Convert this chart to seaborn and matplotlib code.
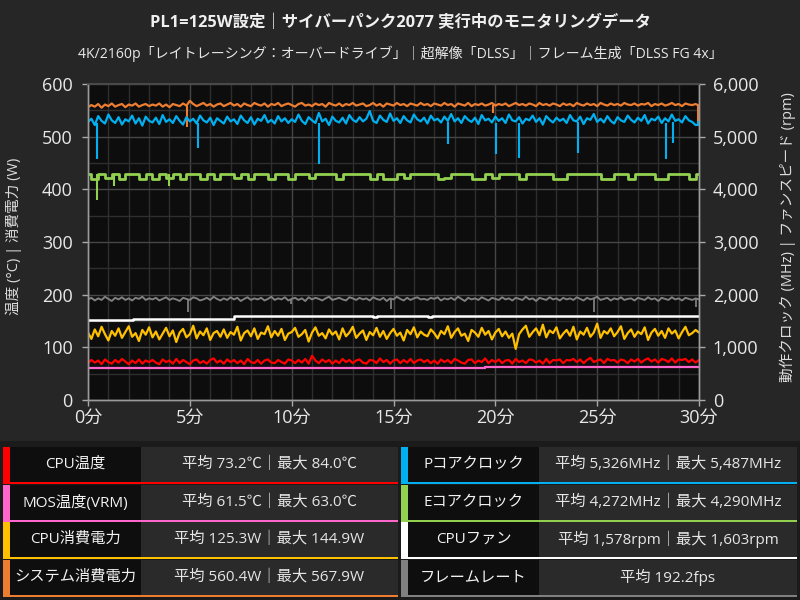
import numpy as np
import matplotlib
matplotlib.use("Agg")
import matplotlib.pyplot as plt
import matplotlib.patches as patches
from matplotlib.ticker import MultipleLocator, FuncFormatter
import seaborn as sns

# sampling grids of the logged series over 30 minutes
t10 = np.linspace(0, 30, 181)   # every 10 s
t20 = np.linspace(0, 30, 91)    # every 20 s

cpu_temp = [70, 76, 71, 75, 68, 77, 72, 69, 76, 71, 78, 73, 68, 75, 70, 77, 69, 75, 72, 76,
            71, 68, 77, 72, 75, 69, 78, 70, 76, 72, 68, 75, 77, 70, 74, 69, 76, 79, 71, 75,
            69, 77, 72, 76, 70, 75, 68, 78, 72, 70, 76, 69, 75, 77, 71, 70, 76, 72, 69, 77,
            75, 70, 76, 71, 78, 69, 84, 75, 70, 77, 72, 76, 69, 75, 70, 78, 72, 76, 70, 75,
            77, 71, 69, 76, 75, 70, 79, 72, 76, 69, 75, 77, 70, 76, 71, 78, 70, 75, 77, 72,
            76, 70, 75, 69, 77, 72, 76, 70, 78, 75, 71, 69, 76, 77, 70, 75, 72, 79, 70, 76,
            72, 77, 70, 75, 76, 69, 78, 72, 75, 70, 77, 76, 71, 75, 69, 78, 70, 76, 75, 77,
            70, 76, 75, 78, 72, 77, 70, 76, 80, 72, 75, 77, 70, 78, 75, 76, 71, 77, 75, 70,
            77, 73, 78, 71, 76, 79, 73, 77, 71, 78, 76, 72, 79, 71, 77, 76, 78, 72, 77, 71,
            76]

cpu_power = [128, 116, 134, 121, 139, 125, 113, 131, 122, 136, 118, 129, 140, 120, 127, 112, 133, 124, 138, 119,
             130, 115, 126, 137, 121, 132, 110, 128, 135, 119, 125, 141, 117, 130, 123, 136, 114, 127, 131, 120,
             134, 118, 129, 124, 139, 113, 127, 132, 121, 136, 116, 128, 125, 140, 119, 131, 122, 135, 114, 126,
             129, 137, 120, 125, 133, 111, 128, 138, 122, 127, 117, 134, 124, 130, 115, 136, 121, 128, 139, 118,
             126, 132, 114, 129, 123, 137, 120, 131, 116, 127, 135, 122, 128, 113, 133, 125, 138, 119, 130, 124,
             121, 134, 127, 117, 131, 125, 140, 118, 129, 136, 122, 126, 112, 133, 128, 120, 137, 124, 131, 115,
             128, 135, 121, 130, 118, 126, 97, 125, 134, 141, 120, 129, 136, 123, 143, 119, 132, 127, 138, 117,
             126, 133, 122, 139, 115, 130, 124, 137, 120, 128, 145, 118, 131, 126, 136, 121, 129, 140, 116, 127,
             134, 120, 130, 125, 138, 114, 128, 135, 122, 131, 118, 136, 126, 132, 117, 129, 139, 123, 127, 133,
             128]

sys_power = [556, 560, 557, 562, 555, 561, 558, 563, 557, 560, 562, 556, 561, 559, 563, 557, 560, 562, 558, 561,
             559, 563, 557, 561, 556, 562, 560, 558, 563, 559, 568, 562, 558, 561, 564, 559, 562, 557, 561, 563,
             558, 561, 564, 559, 562, 557, 563, 560, 558, 564, 561, 559, 563, 557, 562, 560, 564, 558, 561, 563,
             560, 557, 562, 564, 559, 561, 558, 563, 560, 562, 557, 564, 561, 559, 563, 558, 562, 560, 564, 559,
             561, 563, 558, 560, 564, 559, 562, 557, 563, 561, 559, 564, 560, 562, 558, 563, 561, 559, 564, 560,
             562, 558, 563, 561, 559, 564, 560, 562, 557, 563, 561, 559, 564, 558, 562, 560, 563, 559, 561, 564,
             559, 562, 560, 563, 558, 561, 564, 560, 562, 559, 563, 561, 558, 564, 560, 562, 559, 563, 561, 558,
             563, 560, 562, 558, 564, 561, 559, 563, 560, 562, 558, 564, 561, 559, 563, 560, 562, 559, 564, 561,
             560, 563, 559, 562, 561, 564, 558, 562, 560, 563, 559, 561, 564, 560, 562, 558, 563, 561, 560, 562,
             559]

p_clock = [5280, 5340, 5220, 5390, 5300, 5250, 5420, 5310, 5260, 5370, 5230, 5330, 5290, 5400, 5250, 5350, 5210, 5380, 5300, 5270,
           5360, 5240, 5410, 5280, 5330, 5260, 5390, 5300, 5230, 5370, 5290, 5340, 5250, 5400, 5310, 5270, 5360, 5220, 5350, 5300,
           5250, 5380, 5290, 5330, 5240, 5400, 5310, 5260, 5370, 5230, 5340, 5300, 5410, 5270, 5320, 5250, 5390, 5290, 5350, 5260,
           5330, 5280, 5420, 5300, 5240, 5370, 5310, 5260, 5450, 5290, 5340, 5220, 5380, 5300, 5270, 5360, 5250, 5410, 5320, 5280,
           5370, 5290, 5340, 5487, 5300, 5260, 5400, 5320, 5280, 5440, 5300, 5350, 5260, 5390, 5310, 5270, 5420, 5330, 5290, 5360,
           5250, 5400, 5310, 5340, 5270, 5380, 5300, 5430, 5290, 5350, 5260, 5390, 5320, 5280, 5360, 5240, 5410, 5310, 5340, 5270,
           5380, 5300, 5350, 5260, 5420, 5310, 5290, 5370, 5250, 5340, 5310, 5400, 5280, 5350, 5230, 5390, 5320, 5270, 5360, 5300,
           5340, 5260, 5410, 5310, 5290, 5380, 5240, 5350, 5320, 5430, 5280, 5340, 5270, 5390, 5300, 5250, 5370, 5310, 5280, 5400,
           5320, 5270, 5360, 5300, 5410, 5250, 5340, 5310, 5380, 5260, 5350, 5290, 5420, 5300, 5330, 5270, 5390, 5310, 5280, 5220,
           5230]

framerate = [191, 194, 189, 193, 190, 196, 192, 188, 194, 191, 195, 190, 193, 189, 194, 192, 196, 190, 193, 191,
             194, 189, 192, 195, 190, 193, 191, 188, 194, 192, 190, 195, 193, 189, 191, 194, 190, 196, 192, 189,
             193, 190, 195, 191, 194, 188, 192, 195, 190, 193, 191, 194, 189, 192, 196, 190, 193, 191, 195, 189,
             192, 194, 190, 193, 188, 195, 191, 194, 192, 189, 193, 196, 190, 192, 194, 191, 189, 195, 193, 190,
             194, 191, 193, 189, 195, 192, 190, 194, 188, 193, 191, 196, 192, 189, 194, 190, 193, 195, 191, 192,
             190, 194, 192, 195, 189, 193, 191, 194, 190, 196, 192, 188, 194, 191, 193, 190, 195, 192, 189, 194,
             192, 190, 195, 191, 193, 189, 194, 192, 190, 196, 191, 193, 188, 194, 192, 190, 195, 191, 193, 189,
             194, 191, 193, 190, 195, 192, 189, 194, 191, 193, 196, 190, 192, 194, 189, 193, 191, 195, 190, 192,
             193, 189, 194, 192, 190, 195, 191, 193, 188, 194, 192, 190, 195, 191, 193, 189, 194, 192, 190, 193,
             191]

e_clock = [4290, 4200, 4290, 4210, 4290, 4200, 4290, 4290, 4205, 4290, 4200,
           4290, 4210, 4290, 4200, 4290, 4290, 4205, 4290, 4200, 4290, 4290, 4210, 4290, 4200, 4290, 4290, 4205, 4290, 4290, 4200,
           4290, 4290, 4210, 4290, 4290, 4290, 4205, 4290, 4290, 4290, 4290, 4200, 4290, 4205, 4200, 4290, 4210, 4290, 4290, 4290,
           4290, 4205, 4210, 4290, 4290, 4290, 4200, 4205, 4290, 4210, 4290, 4290, 4290, 4205, 4290, 4290, 4290, 4290, 4200, 4205,
           4290, 4290, 4290, 4290, 4290, 4205, 4200, 4290, 4290, 4205, 4290, 4290, 4290, 4200, 4205, 4290, 4290, 4290, 4205, 4290]

# short one-sample drops (minute, lowest value, band level)
p_dip_t = [0.43, 5.4, 11.35, 17.66, 20.03, 21.16, 24.08, 28.4, 28.7, 29.95]
p_dip_low = [4570, 4780, 4480, 4860, 4670, 4590, 4690, 4570, 4880, 5200]
p_dip_top = [5260, 5260, 5260, 5280, 5260, 5260, 5270, 5260, 5270, 5300]
e_dip_t = [0.43, 1.28, 3.97]
e_dip_low = [3790, 4060, 4060]
sys_dip_t = [4.86, 19.9, 29.95]
sys_dip_low = [518, 545, 528]
fps_dip_t = [4.9, 9.97, 14.87, 24.85, 29.85]
fps_dip_low = [168, 183, 172, 167, 177]

# step-like series
fan_t = [0, 2.2, 7.15, 14.0, 14.2, 16.7, 16.9, 30]
fan_rpm = [1515, 1540, 1595, 1575, 1598, 1580, 1600, 1600]
mos_t = [0, 3.1, 12.5, 19.5, 27, 30]
mos_temp = [60, 61, 61.5, 62, 63, 63]

RED, PINK, YELLOW, ORANGE = '#ff0000', '#ff66cc', '#ffc000', '#ed7d31'
BLUE, GREEN, WHITE, GRAY = '#00b0f0', '#92d050', '#ffffff', '#808080'

title = "PL1=125W設定｜サイバーパンク2077 実行中のモニタリングデータ"
subtitle = "4K/2160p「レイトレーシング：オーバードライブ」｜超解像「DLSS」｜フレーム生成「DLSS FG 4x」"

left_names = ["CPU温度", "MOS温度(VRM)", "CPU消費電力", "システム消費電力"]
left_colors = [RED, PINK, YELLOW, ORANGE]
left_avg = ["73.2℃", "61.5℃", "125.3W", "560.4W"]
left_max = ["84.0℃", "63.0℃", "144.9W", "567.9W"]
right_names = ["Pコアクロック", "Eコアクロック", "CPUファン", "フレームレート"]
right_colors = [BLUE, GREEN, WHITE, GRAY]
right_avg = ["5,326MHz", "4,272MHz", "1,578rpm", "192.2fps"]
right_max = ["5,487MHz", "4,290MHz", "1,603rpm", None]

sns.set_theme(style="dark")
plt.rcParams['font.family'] = ['Open Sans', 'Noto Sans CJK JP', 'DejaVu Sans']
plt.rcParams['axes.unicode_minus'] = False

W, H = 800, 600
fig = plt.figure(figsize=(8, 6), dpi=100, facecolor='#262626')


def box(x0, y0, x1, y1):
    # pixel box (top-left origin) -> figure fraction rect
    return [x0 / W, 1 - y1 / H, (x1 - x0) / W, (y1 - y0) / H]


def rect(x0, y0, x1, y1, color):
    l, b, w, h = box(x0, y0, x1, y1)
    fig.patches.append(patches.Rectangle((l, b), w, h, transform=fig.transFigure,
                                         facecolor=color, edgecolor='none', zorder=0))


ax = fig.add_axes(box(88, 84, 699, 400))
ax.set_facecolor('#0d0d0d')
ax2 = ax.twinx()
ax2.set_facecolor('none')

# left axis: temperatures, power, frame rate
sns.lineplot(x=mos_t, y=mos_temp, ax=ax, color=PINK, lw=1.6, drawstyle='steps-post')
sns.lineplot(x=t10, y=cpu_temp, ax=ax, color=RED, lw=1.6)
sns.lineplot(x=t10, y=cpu_power, ax=ax, color=YELLOW, lw=1.6)
sns.lineplot(x=t10, y=framerate, ax=ax, color=GRAY, lw=1.4)
ax.vlines(fps_dip_t, fps_dip_low, 191, color=GRAY, lw=1.3)
sns.lineplot(x=t10, y=sys_power, ax=ax, color=ORANGE, lw=1.6)
ax.vlines(sys_dip_t, sys_dip_low, 560, color=ORANGE, lw=1.5)

# right axis: clocks and fan speed
sns.lineplot(x=fan_t, y=fan_rpm, ax=ax2, color=WHITE, lw=1.8, drawstyle='steps-post')
sns.lineplot(x=t20, y=e_clock, ax=ax2, color=GREEN, lw=2.0, drawstyle='steps-mid')
ax2.vlines(e_dip_t, e_dip_low, 4290, color=GREEN, lw=1.5)
sns.lineplot(x=t10, y=p_clock, ax=ax2, color=BLUE, lw=1.6)
ax2.vlines(p_dip_t, p_dip_low, p_dip_top, color=BLUE, lw=1.5)

ax.set_xlim(0, 30)
ax.set_ylim(0, 600)
ax2.set_ylim(0, 6000)
ax.set_xlabel("")
ax.set_ylabel("")
ax2.set_ylabel("")

ax.xaxis.set_major_locator(MultipleLocator(5))
ax.xaxis.set_minor_locator(MultipleLocator(1))
ax.yaxis.set_major_locator(MultipleLocator(100))
ax.yaxis.set_minor_locator(MultipleLocator(50))
ax2.yaxis.set_major_locator(MultipleLocator(1000))
ax.xaxis.set_major_formatter(FuncFormatter(lambda v, p: f"{int(v)}分"))
ax2.yaxis.set_major_formatter(FuncFormatter(lambda v, p: f"{int(v):,}"))

ax.grid(True, which='major', color='#464646', lw=1)
ax.grid(True, which='minor', color='#2e2e2e', lw=1)
ax.set_axisbelow(True)

ax.tick_params(which='major', bottom=True, left=True, length=4, width=1, color='#aaaaaa',
               labelcolor='#e8e8e8', labelsize=13, direction='out')
ax.tick_params(axis='x', pad=2)
ax.tick_params(axis='y', pad=7)
ax.tick_params(which='minor', length=0)
ax2.tick_params(which='major', right=True, length=4, width=1, color='#aaaaaa',
                labelcolor='#e8e8e8', labelsize=13, direction='out', pad=6)
ax2.tick_params(which='minor', length=0)

for a in (ax, ax2):
    for side in ('left', 'bottom', 'right'):
        a.spines[side].set_color('#9a9a9a')
        a.spines[side].set_linewidth(1)
    a.spines['top'].set_color('#4a4a4a')

fig.text(14 / W, 1 - 236 / H, "温度 (°C) | 消費電力 (W)", rotation=90, ha='center', va='center',
         fontsize=10.5, color='#dddddd')
fig.text(788 / W, 1 - 237 / H, "動作クロック (MHz) | ファンスピード (rpm)", rotation=90,
         ha='center', va='center', fontsize=10.5, color='#dddddd')

fig.text(0.5, 1 - 23 / H, title, ha='center', va='center', fontsize=11.8,
         fontweight='bold', color='#f0f0f0')
fig.text(0.5, 1 - 54 / H, subtitle, ha='center', va='center', fontsize=10.1, color='#e8e8e8')

# summary table under the chart
rect(0, 441, 800, 600, '#1b1b1b')
row_tops = [447, 485, 522, 560]
row_h = 37
columns = [(3, 10, 141, 398, left_names, left_colors, left_avg, left_max),
           (401, 408, 539, 797, right_names, right_colors, right_avg, right_max)]
for bar_x, lab_x, val_x, end_x, names, colors, avgs, maxs in columns:
    for top, name, col, avg, mx in zip(row_tops, names, colors, avgs, maxs):
        bottom = top + row_h
        rect(bar_x, top, lab_x, bottom, col)
        rect(lab_x, top, val_x, bottom - 2, '#0e0e0e')
        rect(val_x, top, end_x, bottom - 2, '#2a2a2a')
        rect(lab_x, bottom - 2, end_x, bottom, col)
        cy = 1 - (top + (row_h - 2) / 2) / H
        fig.text((lab_x + val_x) / 2 / W, cy, name, ha='center', va='center',
                 fontsize=11, color='#f2f2f2')
        value = f"平均 {avg}" if mx is None else f"平均 {avg}｜最大 {mx}"
        fig.text((val_x + end_x) / 2 / W, cy, value, ha='center', va='center',
                 fontsize=11, color='#e6e6e6')

fig.savefig("out.png", dpi=100, facecolor=fig.get_facecolor())
